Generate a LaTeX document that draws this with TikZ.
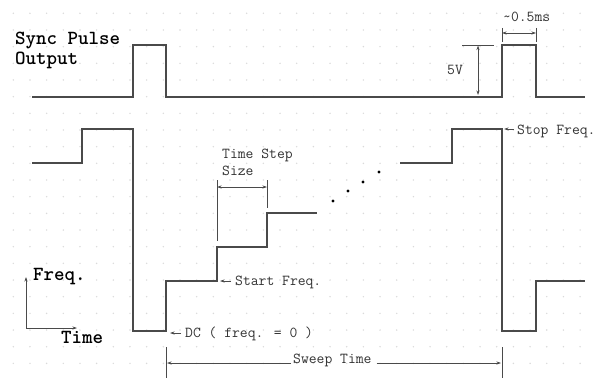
\documentclass[tikz,border=0pt]{standalone}
\usepackage{fontspec}
\usetikzlibrary{arrows.meta}
\definecolor{ink}{HTML}{4A4A4A}
\definecolor{txt}{HTML}{333333}
\definecolor{griddot}{HTML}{DADADA}
\begin{document}
\begin{tikzpicture}[x=1pt,y=-1pt,
  wave/.style={draw=ink,line width=1.1pt},
  dim/.style={draw=ink,line width=0.75pt},
  tipend/.style={-{Stealth[length=4.5pt,width=3pt]}},
  tipboth/.style={{Stealth[length=4.5pt,width=3pt]}-{Stealth[length=4.5pt,width=3pt]}},
  lbl/.style={font=\fontsize{15.2}{17}\selectfont\ttfamily, text=txt, inner sep=0pt, anchor=base west},
  blbl/.style={font=\fontsize{20}{22}\selectfont\ttfamily\bfseries, text=black, inner sep=0pt, anchor=base west},
  bigdot/.style={fill=black}]
\useasboundingbox (0,0) rectangle (593,377);
\fill[white] (0,0) rectangle (593,377);
% faint dot grid
\foreach \i in {0,...,35} \foreach \j in {0,...,22}
  \fill[griddot] (13.3+16.67*\i, 13.3+16.67*\j) circle (0.8pt);

% ---------- labels ----------
\node[blbl] (sync) at (15,45) {Sync Pulse};
\node[blbl] (outp) at (15,65) {Output};
\node[lbl] (ms) at (503,22) {\textasciitilde0.5ms};
\node[lbl] (fivev) at (447,75) {5V};
\node[lbl] (stop) at (517,134) {Stop Freq.};
\node[lbl] (tss1) at (222,158) {Time Step};
\node[lbl] (tss2) at (222,175) {Size};
\node[lbl] (start) at (235,285) {Start Freq.};
\node[lbl] (dc) at (185,337) {DC ( freq. = 0 )};
\node[lbl] (sweep) at (293,363) {Sweep Time};
\node[blbl] (freq) at (33,280) {Freq.};
\node[blbl] (time) at (61,343) {Time};

% ---------- waveforms ----------
\draw[wave] (32,97) -- (133,97) -- (133,45) -- (166,45) -- (166,97) -- (502,97)
  -- (502,45) -- (536,45) -- (536,97) -- (585,97);
\draw[wave] (32,163) -- (82,163) -- (82,129) -- (133,129) -- (133,331) -- (166,331)
  -- (166,281) -- (217,281) -- (217,247) -- (267,247) -- (267,213) -- (317,213);
\draw[wave] (400,163) -- (452,163) -- (452,129) -- (502,129) -- (502,331) -- (536,331)
  -- (536,281) -- (585,281);

% continuation dots
\fill[bigdot] (333,201) circle (1.7pt);
\fill[bigdot] (348,191) circle (1.7pt);
\fill[bigdot] (363,182) circle (1.7pt);
\fill[bigdot] (379,172) circle (1.7pt);

% ---------- 0.5 ms dimension ----------
\coordinate (msA) at (502,28); \coordinate (msB) at (502,42);
\coordinate (msC) at (536,28); \coordinate (msD) at (536,42);
\draw[dim] (msA) -- (msB);
\draw[dim] (msC) -- (msD);
\coordinate (msL) at (502,33); \coordinate (msR) at (536,33);
\draw[dim,tipboth] (msL) -- (msR);

% ---------- 5V dimension ----------
\coordinate (vA) at (462,45); \coordinate (vB) at (494,45);
\draw[dim] (vA) -- (vB);
\coordinate (vT) at (478,45.5); \coordinate (vD) at (478,95);
\draw[dim,tipboth] (vT) -- (vD);

% ---------- time step dimension ----------
\coordinate (tsA) at (217,180); \coordinate (tsB) at (217,241);
\coordinate (tsC) at (267,180); \coordinate (tsD) at (267,208);
\draw[dim] (tsA) -- (tsB);
\draw[dim] (tsC) -- (tsD);
\coordinate (tsL) at (217,187); \coordinate (tsR) at (267,187);
\draw[dim,tipboth] (tsL) -- (tsR);

% ---------- sweep time dimension ----------
\coordinate (swA) at (166,347); \coordinate (swB) at (166,380);
\coordinate (swC) at (502,347); \coordinate (swD) at (502,380);
\draw[dim] (swA) -- (swB);
\draw[dim] (swC) -- (swD);
\coordinate (swL) at (167,363); \coordinate (swR) at (501,363);
\draw[dim,tipend] ([xshift=-2pt]sweep.base west) -- (swL);
\draw[dim,tipend] ([xshift=5pt]sweep.base east) -- (swR);

% ---------- pointer arrows ----------
\coordinate (stopT) at (504,129); \coordinate (stopS) at (514,129);
\draw[dim,tipend] (stopS) -- (stopT);
\coordinate (startT) at (220,281); \coordinate (startS) at (231,281);
\draw[dim,tipend] (startS) -- (startT);
\coordinate (dcT) at (170,333); \coordinate (dcS) at (181,333);
\draw[dim,tipend] (dcS) -- (dcT);

% ---------- axes legend ----------
\coordinate (org) at (26,328);
\coordinate (axU) at (26,277);
\coordinate (axR) at (77,328);
\draw[dim,tipend] (org) -- (axU);
\draw[dim,tipend] (org) -- (axR);
\end{tikzpicture}
\end{document}
